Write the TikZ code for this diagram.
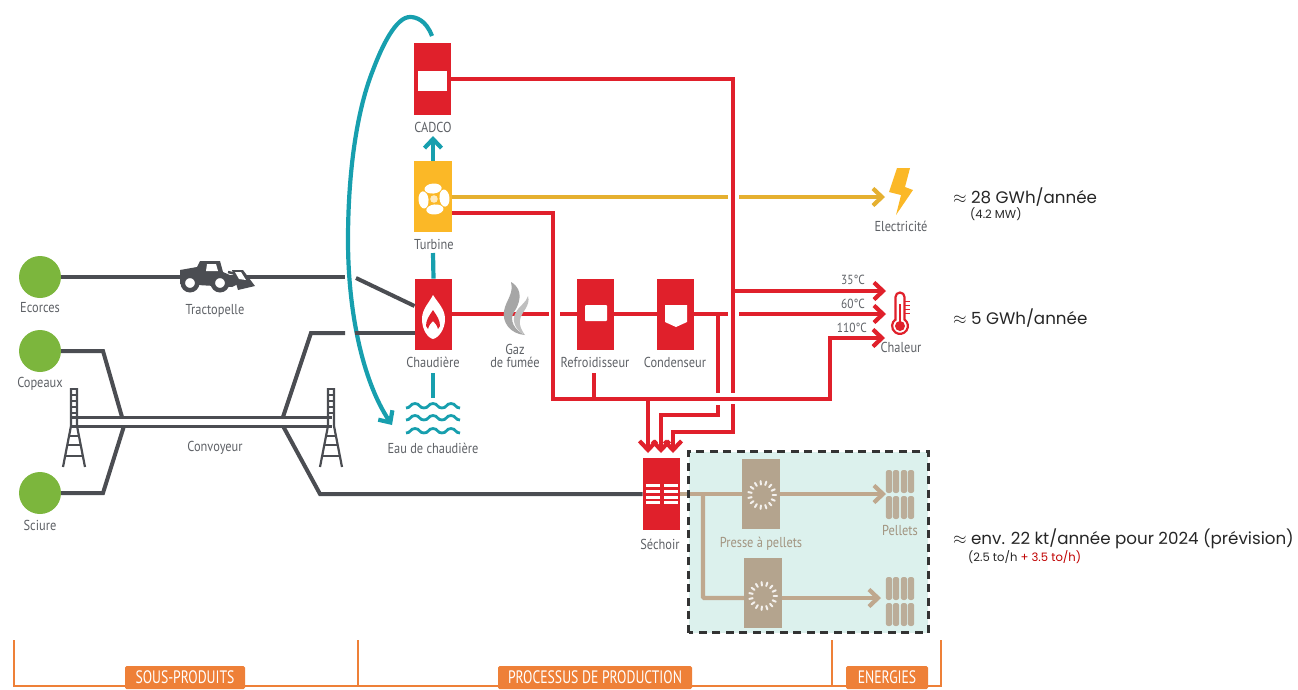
\documentclass[tikz,border=0pt]{standalone}
\usepackage{fontspec}
\usepackage{amsmath,amssymb}
\usetikzlibrary{arrows.meta}
\newfontfamily\labelfont[FakeStretch=0.86]{PT Sans}
\newfontfamily\bandfont[FakeStretch=0.76]{PT Sans}
\newfontfamily\sumfont{Poppins}
\definecolor{unitred}{HTML}{E0202B}
\definecolor{fanyellow}{HTML}{FBB827}
\definecolor{lineyellow}{HTML}{E5B030}
\definecolor{waterteal}{HTML}{179FAE}
\definecolor{slate}{HTML}{4B4D52}
\definecolor{labelgray}{HTML}{5E6166}
\definecolor{leaf}{HTML}{7CB63D}
\definecolor{sand}{HTML}{B4A48E}
\definecolor{sandline}{HTML}{BFA88E}
\definecolor{pale}{HTML}{DCF1ED}
\definecolor{band}{HTML}{EE8038}
\tikzset{
  barb/.style={-{Straight Barb[length=9pt,width=17pt]}},
  redline/.style={draw=unitred,line width=4.2pt},
  redarrow/.style={redline,barb},
  grayline/.style={draw=slate,line width=4pt},
  tealline/.style={draw=waterteal,line width=4.2pt},
  yellowline/.style={draw=lineyellow,line width=4.2pt},
  sandline/.style={draw=sandline,line width=4.2pt},
  sandarrow/.style={sandline,barb},
  unitbox/.style={fill=unitred,minimum width=37.5pt,minimum height=71.5pt,inner sep=0pt},
  pressbox/.style={fill=sand,minimum width=38pt,minimum height=70pt,inner sep=0pt},
  source/.style={circle,fill=leaf,minimum size=42pt,inner sep=0pt},
  caption/.style={text=labelgray,font=\labelfont\fontsize{14.4}{12.5}\selectfont,inner sep=0pt,align=center},
  tempcap/.style={caption,anchor=east,font=\labelfont\fontsize{13.2}{14}\selectfont},
  sumtext/.style={anchor=west,inner sep=0pt,text=black!85,font=\sumfont\fontsize{16.7}{18}\selectfont},
  subtext/.style={anchor=west,inner sep=0pt,text=black!85,font=\sumfont\fontsize{11.6}{13}\selectfont},
  bandlabel/.style={fill=band,rounded corners=1.5pt,text=white,inner sep=0pt,minimum height=23pt,font=\bandfont\fontsize{18}{19}\selectfont},
}
\begin{document}
\begin{tikzpicture}[x=1pt,y=-1pt]
  \useasboundingbox (0,0) rectangle (1298,689);

  % pellet area
  \node[fill=pale,minimum width=239pt,minimum height=181pt,inner sep=0pt] (pelletarea) at (808.5,542) {};

  % units
  \node[unitbox] (cadco) at (432.5,79) {};
  \node[unitbox,fill=fanyellow] (turbine) at (433,196.5) {};
  \node[unitbox] (chaudiere) at (433.5,314.5) {};
  \node[unitbox] (refroid) at (595.5,314.5) {};
  \node[unitbox] (condens) at (675.5,314.5) {};
  \node[unitbox] (sechoir) at (661.5,494) {};
  \node[pressbox] (presseA) at (761,494) {};
  \node[pressbox] (presseB) at (763,593) {};

  % sources
  \node[source] (ecorces) at (40,277) {};
  \node[source] (copeaux) at (40,351) {};
  \node[source] (sciure) at (40,493) {};

  % red network, free ends
  \coordinate (hotTop) at (733,79);
  \coordinate (hotA) at (733,393);
  \coordinate (hotB) at (733,404);
  \coordinate (hotC) at (733,432);
  \coordinate (hotD) at (673,432);
  \coordinate (dryA) at (648,453);
  \coordinate (dryB) at (661,453);
  \coordinate (dryC) at (673,453);
  \coordinate (steamA) at (553,213);
  \coordinate (steamB) at (553,399);
  \coordinate (steamC) at (830,399);
  \coordinate (steamD) at (830,338);
  \coordinate (heat35) at (886,291);
  \coordinate (heat60) at (886,314);
  \coordinate (heat110) at (885,338);
  \coordinate (gasEnd) at (549,314);
  \coordinate (gasRe) at (560,314);
  \coordinate (gasOut) at (728,314);
  \coordinate (gasOn) at (739,314);

  \draw[redline] (cadco.east |- hotTop) -- (hotTop) -- (hotA);
  \draw[redline] (hotB) -- (hotC) -- (hotD) -- (hotD |- 0,440);
  \draw[redline] (turbine.east |- steamA) -- (steamA) -- (steamB) -- (steamC) -- (steamD) -- (840,338);
  \draw[redline] (chaudiere.east |- gasEnd) -- (gasEnd);
  \draw[redline] (gasRe) -- (refroid.west |- gasRe);
  \draw[redline] (refroid.east |- gasRe) -- (condens.west |- gasRe);
  \draw[redline] (condens.east |- gasRe) -- (gasOut);
  \draw[redline] (718,314) -- (718,393);
  \draw[redline] (718,405) -- (718,415) -- (661,415) -- (661,440);
  \draw[redline] (594,373) -- (594,399);
  \draw[redline] (648,399) -- (648,440);

  % arrow heads
  \draw[redarrow] (hotD) -- (dryC);
  \draw[redarrow] (661,430) -- (dryB);
  \draw[redarrow] (648,430) -- (dryA);
  \draw[redarrow] (hotTop |- heat35) -- (heat35);
  \draw[redarrow] (gasOn) -- (heat60);
  \draw[redarrow] (steamD) -- (heat110);

  % water
  \coordinate (cadcoBack) at (432,36);
  \coordinate (waterEnd) at (392,425);
  \draw[tealline,barb] (cadcoBack)
    .. controls (426,20) and (416,17) .. (410,17)
    .. controls (396,17) and (382,46) .. (373,70)
    .. controls (355,115) and (348,180) .. (348,240)
    .. controls (348,310) and (362,380) .. (waterEnd);
  \draw[tealline,barb] (turbine.north) -- (433,136);
  \draw[tealline] (433,253) -- (chaudiere.north);
  \draw[tealline] (433,373) -- (433,398);
  \foreach \yWave in {408,420,433} {
    \foreach \xWave in {406,424,442} {
      \draw[waterteal,line width=2.8pt] (\xWave,\yWave) .. controls (\xWave+5,\yWave) and (\xWave+4,\yWave-4.5) .. (\xWave+9,\yWave-4.5)
        .. controls (\xWave+14,\yWave-4.5) and (\xWave+13,\yWave) .. (\xWave+18,\yWave);
    }
  }

  % electricity
  \coordinate (elecGap) at (728,197);
  \coordinate (elecOn) at (739,197);
  \coordinate (elecEnd) at (885,197);
  \draw[yellowline] (turbine.east |- elecGap) -- (elecGap);
  \draw[yellowline,barb] (elecOn) -- (elecEnd);
  \fill[fanyellow] (897,168) -- (910,168) -- (905,187) -- (913,190) -- (896,215) -- (901,195) -- (889,192) -- cycle;

  % solid fuel lines
  \coordinate (bark) at (345,277);
  \coordinate (barkOn) at (356,278);
  \coordinate (chipOn) at (355,333);
  \coordinate (chipGap) at (345,333);
  \draw[grayline] (ecorces.east) -- (bark);
  \draw[grayline] (barkOn) -- (chaudiere.west |- 0,306);
  \draw[grayline] (copeaux.east) -- (103,351) -- (122,417);
  \draw[grayline] (sciure.east) -- (103,493) -- (124,426);
  \draw[grayline] (283,417) -- (311,333) -- (chipGap);
  \draw[grayline] (chipOn) -- (chaudiere.west |- chipOn);
  \draw[grayline] (283,426) -- (320,494) -- (sechoir.west |- 0,494);

  % conveyor and its two towers
  \draw[draw=slate,line width=3pt] (72,417) -- (332,417);
  \draw[draw=slate,line width=3pt] (72,426) -- (332,426);
  \foreach \xTower in {74,331} {
    \draw[draw=slate,line width=2.2pt] (\xTower-3,388) -- (\xTower-3,426) -- (\xTower-11,467);
    \draw[draw=slate,line width=2.2pt] (\xTower+3,388) -- (\xTower+3,426) -- (\xTower+11,467);
    \draw[draw=slate,line width=2.2pt] (\xTower-3,389) -- (\xTower+3,389);
    \foreach \yRung in {395,401,407,413} {
      \draw[draw=slate,line width=1.4pt] (\xTower-3,\yRung) -- (\xTower+3,\yRung);
    }
    \draw[draw=slate,line width=1.4pt] (\xTower-5,436) -- (\xTower+5,436);
    \draw[draw=slate,line width=1.4pt] (\xTower-7,445) -- (\xTower+7,445);
    \draw[draw=slate,line width=1.4pt] (\xTower-9,456) -- (\xTower+9,456);
  }

  % loader
  \fill[slate] (180,270) -- (197,267) -- (200,261) -- (220,261) -- (223,272) -- (232,276) -- (240,283) -- (232,287) -- (180,284) -- cycle;
  \fill[white] (207,264) -- (216,264) -- (218,271) -- (206,271) -- cycle;
  \draw[draw=slate,line width=2.5pt] (228,272) -- (236,274);
  \fill[slate] (232,270) -- (243,270) -- (255,286) -- (238,290) -- cycle;
  \fill[white] (235,272) -- (241,272) -- (246,280) -- (239,279) -- cycle;
  \draw[fill=white,draw=slate,line width=4.5pt] (190,283) circle (7.2pt);
  \draw[fill=white,draw=slate,line width=4.5pt] (220,283) circle (7.2pt);

  % inside the units
  \fill[white] (418,71) rectangle (447,91);
  \fill[white,rounded corners=1pt] (585,305) rectangle (607,321);
  \fill[white] (665,305) -- (687,305) -- (687,322) -- (676,327) -- (665,322) -- cycle;
  \foreach \ySlit in {485,491,497,502} {
    \fill[white] (646,\ySlit-1.5) rectangle (660,\ySlit+1.5);
    \fill[white] (664,\ySlit-1.5) rectangle (678,\ySlit+1.5);
  }
  % flame
  \fill[white] (433,295) .. controls (438,303) and (445,309) .. (445,319) .. controls (445,330) and (438,338) .. (433,339)
    .. controls (428,338) and (422,330) .. (422,319) .. controls (422,309) and (429,303) .. (433,295) -- cycle;
  \fill[unitred] (433,310) .. controls (437,316) and (440,320) .. (440,326) -- (438,329) .. controls (437,325) and (435,323) .. (433,321)
    .. controls (431,323) and (429,325) .. (428,329) -- (426,326) .. controls (426,320) and (429,316) .. (433,310) -- cycle;
  % fan
  \foreach \aBlade in {5,95,185,275} {
    \fill[white,rotate around={\aBlade:(434,199)}] (434,199) ++(10.5,0) ellipse (5pt and 8.6pt);
  }
  \fill[fanyellow] (434,199) circle (5pt);
  \fill[white!70!fanyellow] (434,199) circle (3.8pt);

  % smoke
  \fill[black!35] (511,282) .. controls (525,290) and (519,305) .. (514,312) .. controls (509,320) and (514,330) .. (525,335)
    .. controls (510,334) and (502,322) .. (504,311) .. controls (506,300) and (514,294) .. (511,282) -- cycle;
  \fill[black!25] (528,296) .. controls (531,306) and (521,312) .. (520,320) .. controls (519,326) and (522,331) .. (525,335)
    .. controls (515,330) and (511,320) .. (516,312) .. controls (519,306) and (526,303) .. (528,296) -- cycle;

  % thermometer
  \draw[draw=unitred,line width=2.2pt,fill=white] (895.5,319.5) -- (895.5,297) arc[start angle=180,end angle=0,radius=4.5pt]
    -- (904.5,319.5) arc[start angle=55,end angle=-235,radius=7.9pt] -- cycle;
  \fill[unitred] (900,326) circle (5pt);
  \fill[unitred] (898.6,304) rectangle (901.4,323);
  \foreach \yTick in {301,305,309,313} {
    \draw[draw=unitred,line width=1pt] (905,\yTick) -- (910,\yTick);
  }

  % pellet line
  \coordinate (pelletFork) at (703,494);
  \coordinate (pelletTurn) at (703,598);
  \coordinate (pelletA) at (886,494);
  \coordinate (pelletB) at (881,598);
  \draw[sandline] (sechoir.east |- pelletFork) -- (presseA.west |- pelletFork);
  \draw[sandarrow] (presseA.east |- pelletFork) -- (pelletA);
  \draw[sandline,rounded corners=1pt] (pelletFork) -- (pelletTurn) -- (presseB.west |- pelletTurn);
  \draw[sandarrow] (presseB.east |- pelletTurn) -- (pelletB);
  \foreach \nPress/\xPress/\yPress in {A/762/495,B/763/596} {
    \foreach \aTick in {0,24,...,336} {
      \draw[white!85!sand,line width=2pt,line cap=round] (\xPress,\yPress) ++(\aTick:10.5pt) -- ++(\aTick:3.5pt);
    }
  }
  \foreach \xPellet in {889,896,904,911} {
    \foreach \yPellet in {470,496,577,603} {
      \draw[draw=none,fill=sand!90,rounded corners=2.5pt] (\xPellet-3.2,\yPellet) rectangle (\xPellet+3.2,\yPellet+23);
    }
  }
  \draw[draw=black!80,line width=2.8pt,dash pattern=on 8pt off 5.5pt] (pelletarea.south west) rectangle (pelletarea.north east);

  % captions
  \node[caption] (lblcadco) at (433,127) {CADCO};
  \node[caption] (lblturbine) at (434,244) {Turbine};
  \node[caption] (lblchaud) at (433,362) {Chaudière};
  \node[caption] (lblgaz) at (515,356) {Gaz\\de fumée};
  \node[caption] (lblrefroid) at (595,362) {Refroidisseur};
  \node[caption] (lblcondens) at (675,362) {Condenseur};
  \node[caption] (lbleau) at (433,448) {Eau de chaudière};
  \node[caption] (lblecorces) at (40,308) {Ecorces};
  \node[caption] (lblcopeaux) at (40,384) {Copeaux};
  \node[caption] (lblsciure) at (40,525) {Sciure};
  \node[caption] (lbltracto) at (215,311) {Tractopelle};
  \node[caption] (lblconvoy) at (215,448) {Convoyeur};
  \node[caption] (lblsechoir) at (660,544) {Séchoir};
  \node[caption,text=sand!90!black] (lblpresse) at (761,544) {Presse à pellets};
  \node[caption,text=sand!90!black] (lblpellets) at (900,530) {Pellets};
  \node[caption] (lblelec) at (901,226) {Electricité};
  \node[caption] (lblchaleur) at (901,347) {Chaleur};
  \node[tempcap] (lbl35) at (865,280) {35°C};
  \node[tempcap] (lbl60) at (865,304) {60°C};
  \node[tempcap] (lbl110) at (867,328) {110°C};

  % yearly figures
  \node[sumtext] (sumelec) at (953,197) {$\approx$ 28 GWh/année};
  \node[subtext] (subelec) at (970,214) {(4.2 MW)};
  \node[sumtext] (sumheat) at (953,318) {$\approx$ 5 GWh/année};
  \node[sumtext] (sumpellet) at (953,539) {$\approx$ env. 22 kt/année pour 2024 (prévision)};
  \node[subtext] (subpellet) at (968,557) {(2.5 to/h \textcolor{red!75!black}{+ 3.5 to/h)}};

  % bottom bands
  \draw[draw=band,line width=1.6pt] (14,640) -- (14,686) -- (941,686) -- (941,640);
  \draw[draw=band,line width=1.6pt] (358,640) -- (358,686);
  \draw[draw=band,line width=1.6pt] (832,640) -- (832,686);
  \node[bandlabel,minimum width=120pt] (bandsous) at (185,677.5) {SOUS-PRODUITS};
  \node[bandlabel,minimum width=194pt] (bandproc) at (595,677.5) {PROCESSUS DE PRODUCTION};
  \node[bandlabel,minimum width=82pt] (bandener) at (887,677.5) {ENERGIES};
\end{tikzpicture}
\end{document}
